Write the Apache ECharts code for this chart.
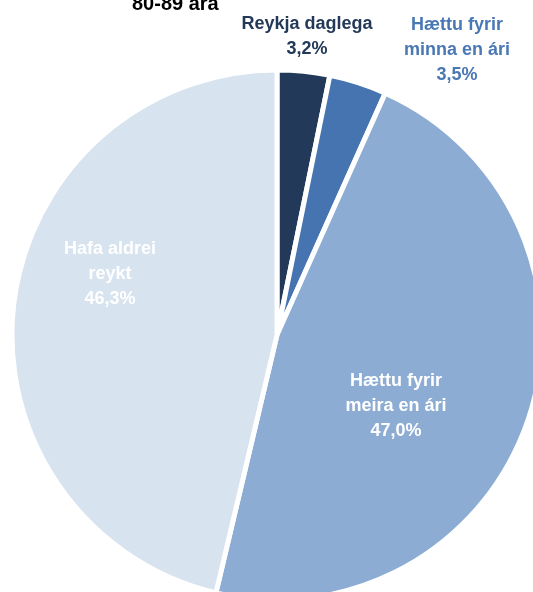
<!DOCTYPE html>
<html><head><meta charset="utf-8">
<script src="https://cdn.jsdelivr.net/npm/echarts@6/dist/echarts.min.js"></script>
<style>html,body{margin:0;padding:0;background:#fff}#c{width:533px;height:592px}</style>
</head><body><div id="c"></div>
<script>
const titleText = '80-89 ára';
const categories = ['Reykja daglega', 'Hættu fyrir\nminna en ári', 'Hættu fyrir\nmeira en ári', 'Hafa aldrei\nreykt'];
const values = [3.2, 3.5, 47.0, 46.3];
const colors = ['#233959', '#4574B0', '#8CACD4', '#D7E3EF'];
const labelColors = ['#233959', '#4A78B5', '#ffffff', '#ffffff'];
const labelPos = [[307, 37], [457, 50], [396, 406], [110, 274]];

const chart = echarts.init(document.getElementById('c'), null, {renderer: 'canvas'});
const data = categories.map((n, i) => ({
  name: n, value: values[i],
  itemStyle: {color: colors[i]},
  label: {color: labelColors[i]}
}));
chart.setOption({
  animation: false,
  title: {text: titleText, left: 127, top: -11,
    textStyle: {fontFamily: 'Liberation Sans, Arial, sans-serif', fontSize: 20, fontWeight: 'bold', color: '#000'}},
  series: [{
    type: 'pie',
    center: [277, 335],
    radius: [0, 265],
    startAngle: 90,
    clockwise: true,
    itemStyle: {borderColor: '#fff', borderWidth: 5},
    label: {
      show: true,
      position: 'inside',
      fontFamily: 'Liberation Sans, Arial, sans-serif',
      fontSize: 18, fontWeight: 'bold', lineHeight: 25, align: 'center',
      formatter: p => p.name + '\n' + p.value.toFixed(1).replace('.', ',') + '%'
    },
    labelLine: {show: false},
    labelLayout: p => ({x: labelPos[p.dataIndex][0], y: labelPos[p.dataIndex][1], align: 'center', verticalAlign: 'middle'}),
    data: data
  }]
});
</script></body></html>
